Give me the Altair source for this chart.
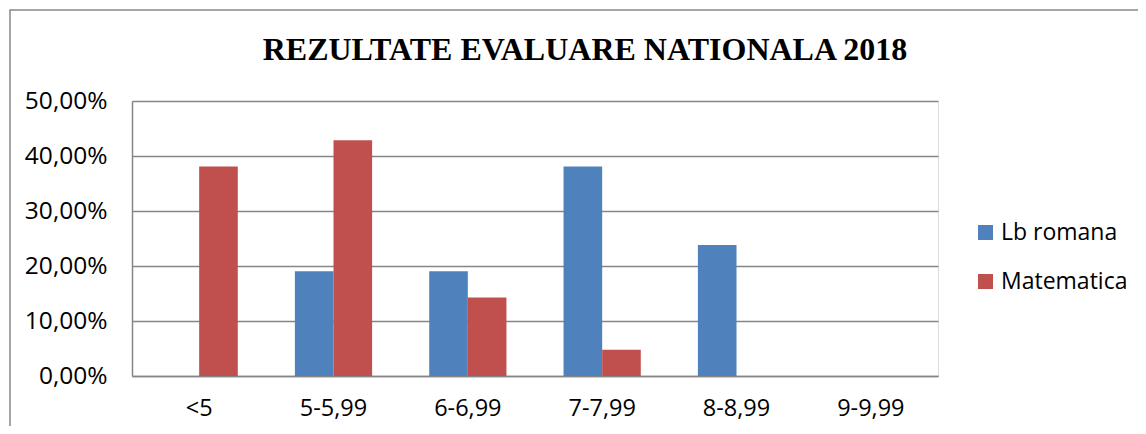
import altair as alt
import pandas as pd

categories = ["<5", "5-5,99", "6-6,99", "7-7,99", "8-8,99", "9-9,99"]
series_names = ["Lb romana", "Matematica"]
lb_romana = [0.0, 0.1905, 0.1905, 0.3810, 0.2381, 0.0]
matematica = [0.3810, 0.4286, 0.1429, 0.0476, 0.0, 0.0]
y_ticks = [0, 0.1, 0.2, 0.3, 0.4, 0.5]
title_text = "REZULTATE EVALUARE NATIONALA 2018"

rows = []
for c, a, b in zip(categories, lb_romana, matematica):
    rows.append({"cat": c, "serie": series_names[0], "val": a})
    rows.append({"cat": c, "serie": series_names[1], "val": b})
df = pd.DataFrame(rows)

W, H = 806, 275
LBL_FONT = "Open Sans"

border = alt.Chart(pd.DataFrame({"d": [0]})).mark_rect(
    fill=None, stroke="#888888", strokeWidth=1.5
).encode(
    x=alt.value(-122), x2=alt.value(1100),
    y=alt.value(-91), y2=alt.value(400)
)

title = alt.Chart(pd.DataFrame({"t": [title_text]})).mark_text(
    font="Liberation Serif", fontSize=32, fontWeight="bold", color="#000000",
    align="center", baseline="alphabetic"
).encode(text="t:N", x=alt.value(453), y=alt.value(-41))

bars = alt.Chart(df).mark_bar().encode(
    x=alt.X("cat:N", sort=categories,
            scale=alt.Scale(paddingInner=0.425, paddingOuter=0.2125),
            axis=alt.Axis(title=None, labelAngle=0, labelFont=LBL_FONT,
                          labelFontSize=23.5, labelColor="#000000",
                          labelPadding=20, ticks=False, domainColor="#868686",
                          domainWidth=1.5, grid=False)),
    xOffset=alt.XOffset("serie:N", sort=series_names, scale=alt.Scale(paddingInner=0, paddingOuter=0)),
    y=alt.Y("val:Q", scale=alt.Scale(domain=[0, 0.5], nice=False),
            axis=alt.Axis(title=None, values=y_ticks, labelFont=LBL_FONT,
                          labelFontSize=24.5, labelColor="#000000",
                          labelExpr="replace(format(datum.value, '.2%'), '.', ',')",
                          labelPadding=25, ticks=False, domainColor="#868686",
                          domainWidth=1.5, gridColor="#868686", gridWidth=1.5)),
    color=alt.Color("serie:N", sort=series_names,
                    scale=alt.Scale(domain=series_names, range=["#4F81BD", "#C0504D"]),
                    legend=alt.Legend(title=None, orient="none", legendX=842, legendY=120,
                                      symbolType="square", symbolSize=225,
                                      symbolStrokeWidth=0, labelFont=LBL_FONT,
                                      labelFontSize=23, labelColor="#000000",
                                      rowPadding=25, labelOffset=4))
)

chart = alt.layer(border, title, bars).properties(
    width=W, height=H,
    autosize=alt.AutoSizeParams(type="none"),
    padding={"left": 124, "top": 93, "right": 200, "bottom": 50},
).configure_view(stroke=None).configure(background="white")

chart.save("out.html", embed_options={"renderer": "svg", "actions": False})
